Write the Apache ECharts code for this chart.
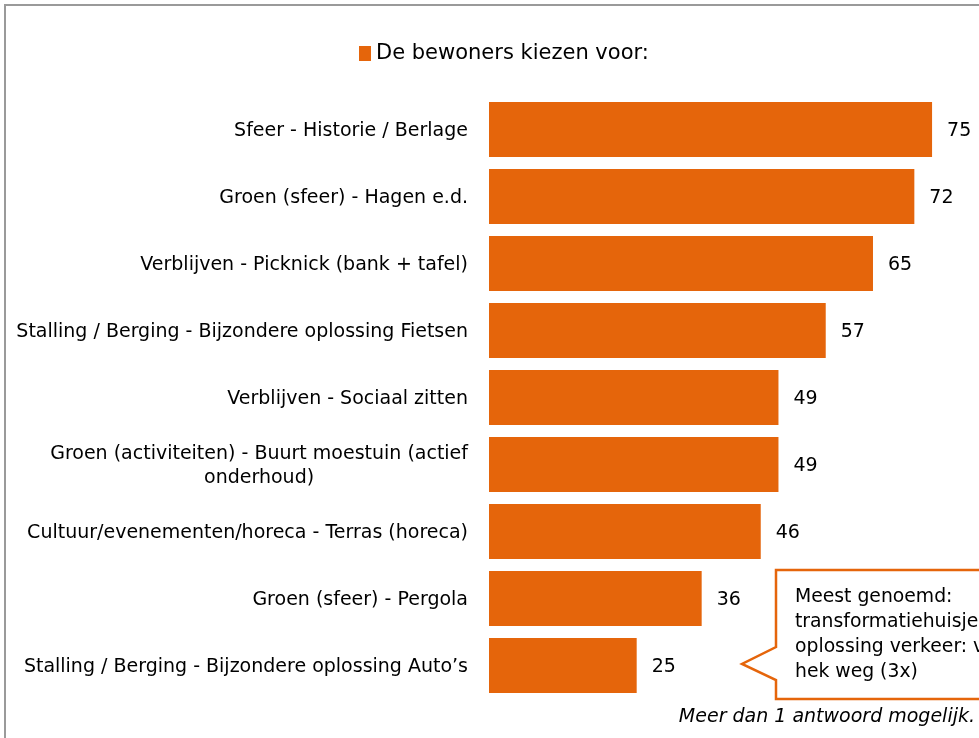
<!DOCTYPE html>
<html>
<head>
<meta charset="utf-8">
<script src="https://cdn.jsdelivr.net/npm/echarts@6/dist/echarts.min.js"></script>
<style>
  html, body { margin: 0; padding: 0; background: #fff; }
  #chart { width: 979px; height: 738px; }
</style>
</head>
<body>
<div id="chart"></div>
<script>
  // categorieën en aantallen
  var categories = [
    'Sfeer - Historie / Berlage',
    'Groen (sfeer) - Hagen e.d.',
    'Verblijven - Picknick (bank + tafel)',
    'Stalling / Berging - Bijzondere oplossing Fietsen',
    'Verblijven - Sociaal zitten',
    'Groen (activiteiten) - Buurt moestuin (actief\nonderhoud)',
    'Cultuur/evenementen/horeca - Terras (horeca)',
    'Groen (sfeer) - Pergola',
    'Stalling / Berging - Bijzondere oplossing Auto\u2019s'
  ];
  var counts = [75, 72, 65, 57, 49, 49, 46, 36, 25];
  var seriesName = 'De bewoners kiezen voor:';
  var calloutLines = [
    'Meest genoemd:',
    'transformatiehuisje',
    'oplossing verkeer: v',
    'hek weg (3x)'
  ];
  var footnote = 'Meer dan 1 antwoord mogelijk.';

  var orange = '#E5650B';
  var font = 'DejaVu Sans';

  var chart = echarts.init(document.getElementById('chart'));

  var calloutText = calloutLines.map(function (line, i) {
    return {
      type: 'text',
      left: 795,
      top: 588 + i * 25,
      style: {text: line, fill: '#000', font: '18.8px "' + font + '"'}
    };
  });

  var option = {
    animation: false,
    legend: {
      data: [{name: seriesName, icon: 'rect'}],
      left: 354,
      top: 38,
      itemWidth: 12,
      itemHeight: 15,
      itemGap: 5,
      textStyle: {fontFamily: font, fontSize: 21, color: '#000'}
    },
    grid: {left: 489, top: 96, bottom: 39, right: 17.4, containLabel: false},
    xAxis: {
      type: 'value',
      min: 0,
      max: 80,
      show: false
    },
    yAxis: {
      type: 'category',
      inverse: true,
      data: categories,
      axisLine: {show: false},
      axisTick: {show: false},
      axisLabel: {
        margin: 21,
        fontFamily: font,
        fontSize: 19,
        color: '#000',
        lineHeight: 24,
        padding: [3, 0, 0, 0],
        formatter: function (v) {
          return v.split('\n').map(function (l) { return '{c|' + l + '}'; }).join('\n');
        },
        rich: {c: {align: 'center', fontFamily: font, fontSize: 19, color: '#000', lineHeight: 24}}
      }
    },
    series: [{
      name: seriesName,
      type: 'bar',
      data: counts,
      barCategoryGap: '18%',
      itemStyle: {color: orange},
      label: {
        show: true,
        position: 'right',
        distance: 15,
        offset: [0, 2],
        fontFamily: font,
        fontSize: 19,
        color: '#000'
      }
    }],
    graphic: [
      {
        type: 'rect',
        shape: {x: 5, y: 5, width: 1200, height: 1200},
        style: {fill: null, stroke: '#9a9a9a', lineWidth: 2},
        silent: true
      },
      {
        type: 'polygon',
        shape: {points: [[776, 570], [1200, 570], [1200, 699], [776, 699], [776, 680], [742, 664], [776, 647]]},
        style: {fill: '#fff', stroke: orange, lineWidth: 2.5}
      }
    ].concat(calloutText).concat([
      {
        type: 'text',
        right: 4,
        top: 708,
        style: {text: footnote, fill: '#000', font: 'italic 19px "' + font + '"'}
      }
    ])
  };

  chart.setOption(option);
</script>
</body>
</html>
